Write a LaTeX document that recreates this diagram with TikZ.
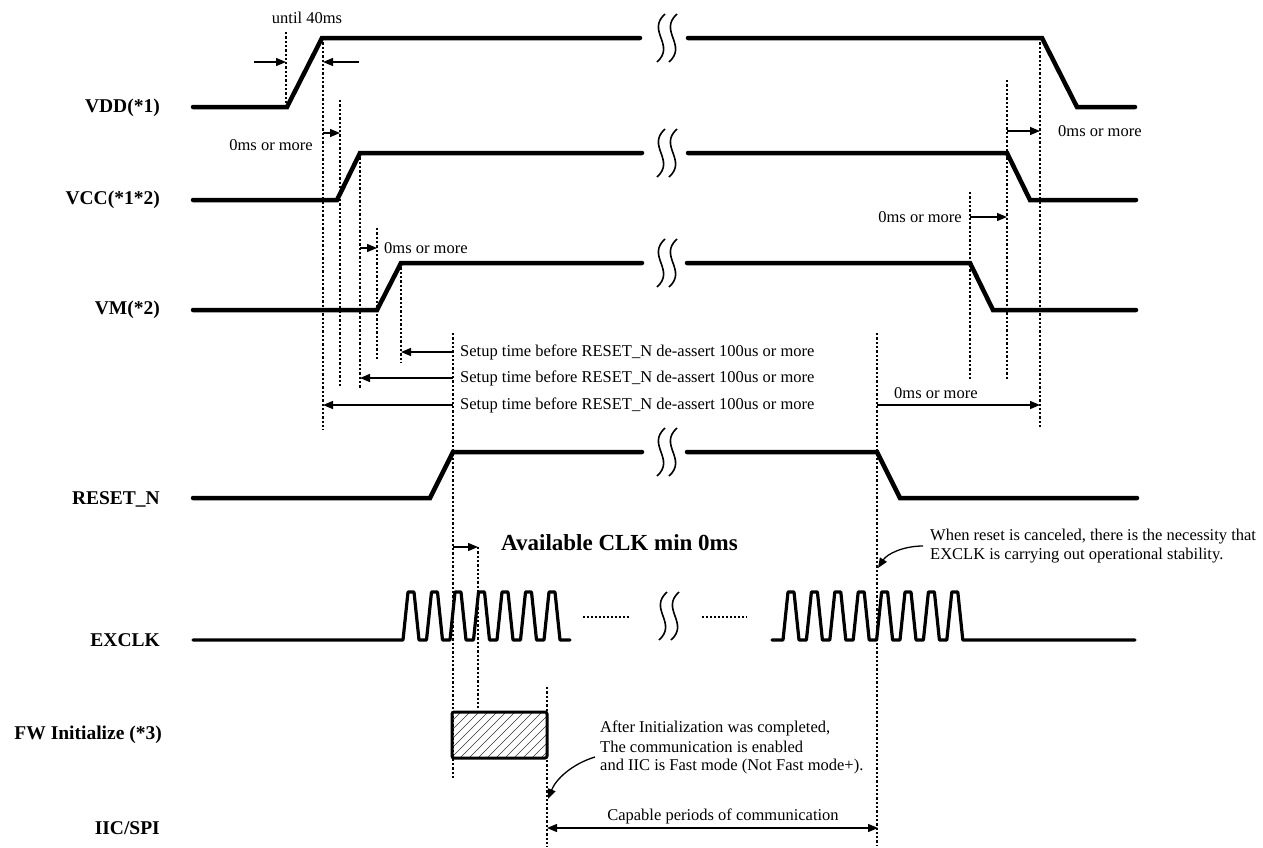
\documentclass[tikz,border=0pt]{standalone}
\usepackage{fontspec}
\setmainfont{Liberation Serif}
\usetikzlibrary{arrows.meta}
\newcommand\brkmark[2]{%
  \draw[wav] ({#1+4},{#2-24}) .. controls ({#1-15},{#2-7}) and ({#1+15},{#2+7}) .. ({#1-4},{#2+24});}
\newcommand\guideline[4]{%
  \coordinate (#1t) at (#2,#3); \coordinate (#1b) at (#2,#4);
  \draw[guide] (#1t) -- (#1b);}
\begin{document}
\begin{tikzpicture}[x=1pt,y=-1pt,
  sig/.style={line width=4.5pt,line cap=round,line join=miter},
  clk/.style={line width=3.2pt,line cap=round,line join=round},
  guide/.style={line width=1.4pt,dash pattern=on 2.3pt off 2pt},
  dim/.style={line width=1.3pt,-{Triangle[length=10pt,width=8pt]}},
  dimboth/.style={line width=1.3pt,{Triangle[length=10pt,width=8pt]}-{Triangle[length=10pt,width=8pt]}},
  lbl/.style={font=\fontsize{19.5}{22}\selectfont\bfseries,anchor=east,inner sep=0},
  txt/.style={font=\fontsize{16.5}{19.5}\selectfont,inner sep=0},
  wav/.style={line width=1.6pt},
  dots/.style={line width=1.5pt,dash pattern=on 1.5pt off 2.5pt},
]
\useasboundingbox (0,0) rectangle (1263,847);

% ---------- labels ----------
\node[lbl] (lvdd) at (160,108) {VDD(*1)};
\node[lbl] (lvcc) at (160,200) {VCC(*1*2)};
\node[lbl] (lvm) at (160,310) {VM(*2)};
\node[lbl] (lrst) at (160,499) {RESET\_N};
\node[lbl] (lclk) at (160,640) {EXCLK};
\node[lbl] (lfw) at (162,735) {FW Initialize (*3)};
\node[lbl] (liic) at (160,828) {IIC/SPI};

% ---------- guide lines ----------
\guideline{d1}{286}{32}{107}
\guideline{d2}{323}{38}{430}
\guideline{d3}{340}{100}{386}
\guideline{d4}{360}{153}{389}
\guideline{d5}{377}{228}{361}
\guideline{d6}{401}{263}{362}
\guideline{d7}{453}{333}{778}
\guideline{d8}{478}{547}{708}
\guideline{d9}{547}{687}{847}
\guideline{d10}{877}{333}{845}
\guideline{d11}{970}{192}{380}
\guideline{d12}{1007}{80}{380}
\guideline{d13}{1040}{38}{428}

% ---------- signals ----------
\draw[sig] (193,107) -- (287,107) -- (322,38) -- (640,38);
\draw[sig] (688,38) -- (1042,38) -- (1077,107) -- (1135,107);
\brkmark{661}{38}\brkmark{673}{38}

\draw[sig] (193,200) -- (337,200) -- (360,153) -- (642,153);
\draw[sig] (688,153) -- (1007,153) -- (1030,200) -- (1136,200);
\brkmark{661}{153}\brkmark{673}{153}

\draw[sig] (193,310) -- (377,310) -- (401,263) -- (642,263);
\draw[sig] (687,263) -- (970,263) -- (993,310) -- (1136,310);
\brkmark{661}{263}\brkmark{673}{263}

\draw[sig] (193,498) -- (430,498) -- (453,452) -- (642,452);
\draw[sig] (687,452) -- (877,452) -- (900,498) -- (1137,498);
\brkmark{661}{452}\brkmark{673}{452}

\draw[clk] (193,640) -- (403,640)
  \foreach \i in {0,...,6} { -- ++(5,-48) -- ++(6,0) -- ++(5,48) -- ++(7.5,0) } -- (570,640);
\draw[clk] (772,640) -- (783,640)
  \foreach \i in {0,...,7} { -- ++(5,-48) -- ++(6,0) -- ++(5,48) -- ++(7.4,0) } -- (1135,640);
\brkmark{663}{616}\brkmark{675}{616}
\coordinate (dl1) at (583,617); \coordinate (dl2) at (629,617);
\coordinate (dr1) at (702,617); \coordinate (dr2) at (747,617);
\draw[dots] (dl1) -- (dl2);
\draw[dots] (dr1) -- (dr2);

% ---------- FW box ----------
\begin{scope}
  \clip (452,712) rectangle (547,758);
  \foreach \k in {-55,-46,...,100} \draw[line width=0.5pt,black!80] ({452+\k},758) -- ++(60,-60);
\end{scope}
\node[draw,line width=3pt,rounded corners=2pt,minimum width=95pt,minimum height=46pt,inner sep=0] (fw) at (499.5,735) {};

% ---------- dimension arrows ----------
\coordinate (a1s) at (254,62); \coordinate (a1e) at (286,62);
\draw[dim] (a1s) -- (a1e);
\coordinate (a2s) at (359,62); \coordinate (a2e) at (323,62);
\draw[dim] (a2s) -- (a2e);
\node[txt] (t40) at (307,18) {until 40ms};

\coordinate (a3s) at (323,133); \coordinate (a3e) at (340,133);
\draw[dim] (a3s) -- (a3e);
\node[txt,anchor=east] (t0a) at (313,145) {0ms or more};

\coordinate (a4s) at (360,248); \coordinate (a4e) at (377,248);
\draw[dim] (a4s) -- (a4e);
\node[txt,anchor=west] (t0b) at (384,248) {0ms or more};

\coordinate (s1s) at (453,352); \coordinate (s1e) at (401,352);
\draw[dim] (s1s) -- (s1e);
\coordinate (s2s) at (453,378); \coordinate (s2e) at (360,378);
\draw[dim] (s2s) -- (s2e);
\coordinate (s3s) at (453,405); \coordinate (s3e) at (323,405);
\draw[dim] (s3s) -- (s3e);
\node[txt,anchor=west] (st1) at (460,352) {Setup time before RESET\_N de-assert 100us or more};
\node[txt,anchor=west] (st2) at (460,378) {Setup time before RESET\_N de-assert 100us or more};
\node[txt,anchor=west] (st3) at (460,405) {Setup time before RESET\_N de-assert 100us or more};

\coordinate (r1s) at (1007,131); \coordinate (r1e) at (1040,131);
\draw[dim] (r1s) -- (r1e);
\node[txt,anchor=west] (t0c) at (1058,131) {0ms or more};

\coordinate (r2s) at (970,217); \coordinate (r2e) at (1007,217);
\draw[dim] (r2s) -- (r2e);
\node[txt,anchor=east] (t0d) at (962,217) {0ms or more};

\coordinate (r3s) at (877,405); \coordinate (r3e) at (1040,405);
\draw[dim] (r3s) -- (r3e);
\node[txt,anchor=west] (t0e) at (894,393) {0ms or more};

\coordinate (c1s) at (453,547); \coordinate (c1e) at (478,547);
\draw[dim] (c1s) -- (c1e);
\node[txt,anchor=west,font=\fontsize{23}{26}\selectfont\bfseries] (tclk) at (501,543) {Available CLK min 0ms};

\coordinate (p1) at (547,828); \coordinate (p2) at (878,828);
\draw[dimboth] (p1) -- (p2);
\node[txt] (tcap) at (723,816) {Capable periods of communication};

% ---------- notes ----------
\node[txt,anchor=west] (n1) at (930,537) {When reset is canceled, there is the necessity that};
\node[txt,anchor=west] (n2) at (930,556) {EXCLK is carrying out operational stability.};
\coordinate (n2s) at (923,546); \coordinate (n2e) at (878,568);
\draw[dim] (n2s) .. controls (903,546) and (887,554) .. (n2e);

\node[txt,anchor=west] (m1) at (600,728) {After Initialization was completed,};
\node[txt,anchor=west] (m2) at (600,747) {The communication is enabled};
\node[txt,anchor=west] (m3) at (600,767) {and IIC is Fast mode (Not Fast mode+).};
\coordinate (m3s) at (595,757); \coordinate (m3e) at (548,799);
\draw[dim] (m3s) .. controls (572,764) and (556,779) .. (m3e);
\end{tikzpicture}
\end{document}
